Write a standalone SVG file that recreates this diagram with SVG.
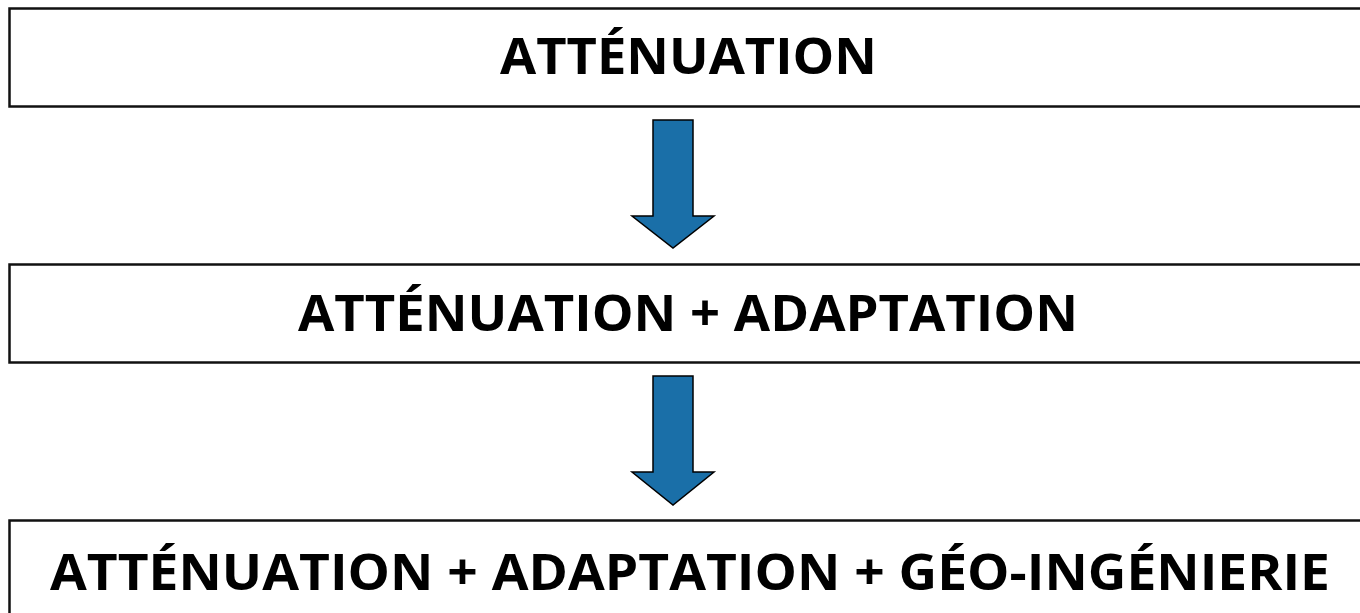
<svg xmlns="http://www.w3.org/2000/svg" width="1360" height="613" viewBox="0 0 1360 613">
<style>
.box{fill:#fff;stroke:#111;stroke-width:2.5}
.lbl{font-family:"Open Sans","Liberation Sans",sans-serif;font-weight:bold;font-size:51px;fill:#000;text-anchor:middle}
.arr{fill:#1a6fa8;stroke:#000;stroke-width:1.5;stroke-linejoin:miter}
</style>
<rect width="1360" height="613" fill="#fff"/>
<g id="node1"><rect class="box" x="9.5" y="8.5" width="1360" height="98"/><text class="lbl" x="688.5" y="73.5" textLength="377" lengthAdjust="spacingAndGlyphs">ATTÉNUATION</text></g>
<g id="node2"><rect class="box" x="9.5" y="264.5" width="1360" height="98"/><text class="lbl" x="688" y="331" textLength="780" lengthAdjust="spacingAndGlyphs">ATTÉNUATION + ADAPTATION</text></g>
<g id="node3"><rect class="box" x="9.5" y="520.5" width="1360" height="120"/><text class="lbl" x="690" y="589.5" textLength="1280" lengthAdjust="spacingAndGlyphs">ATTÉNUATION + ADAPTATION + GÉO-INGÉNIERIE</text></g>
<g id="connectors">
<polygon class="arr" points="653,120 693,120 693,216 714,216 673,248 632,216 653,216"/>
<polygon class="arr" points="653,376 693,376 693,472 714,472 673,505 632,472 653,472"/>
</g>
</svg>
